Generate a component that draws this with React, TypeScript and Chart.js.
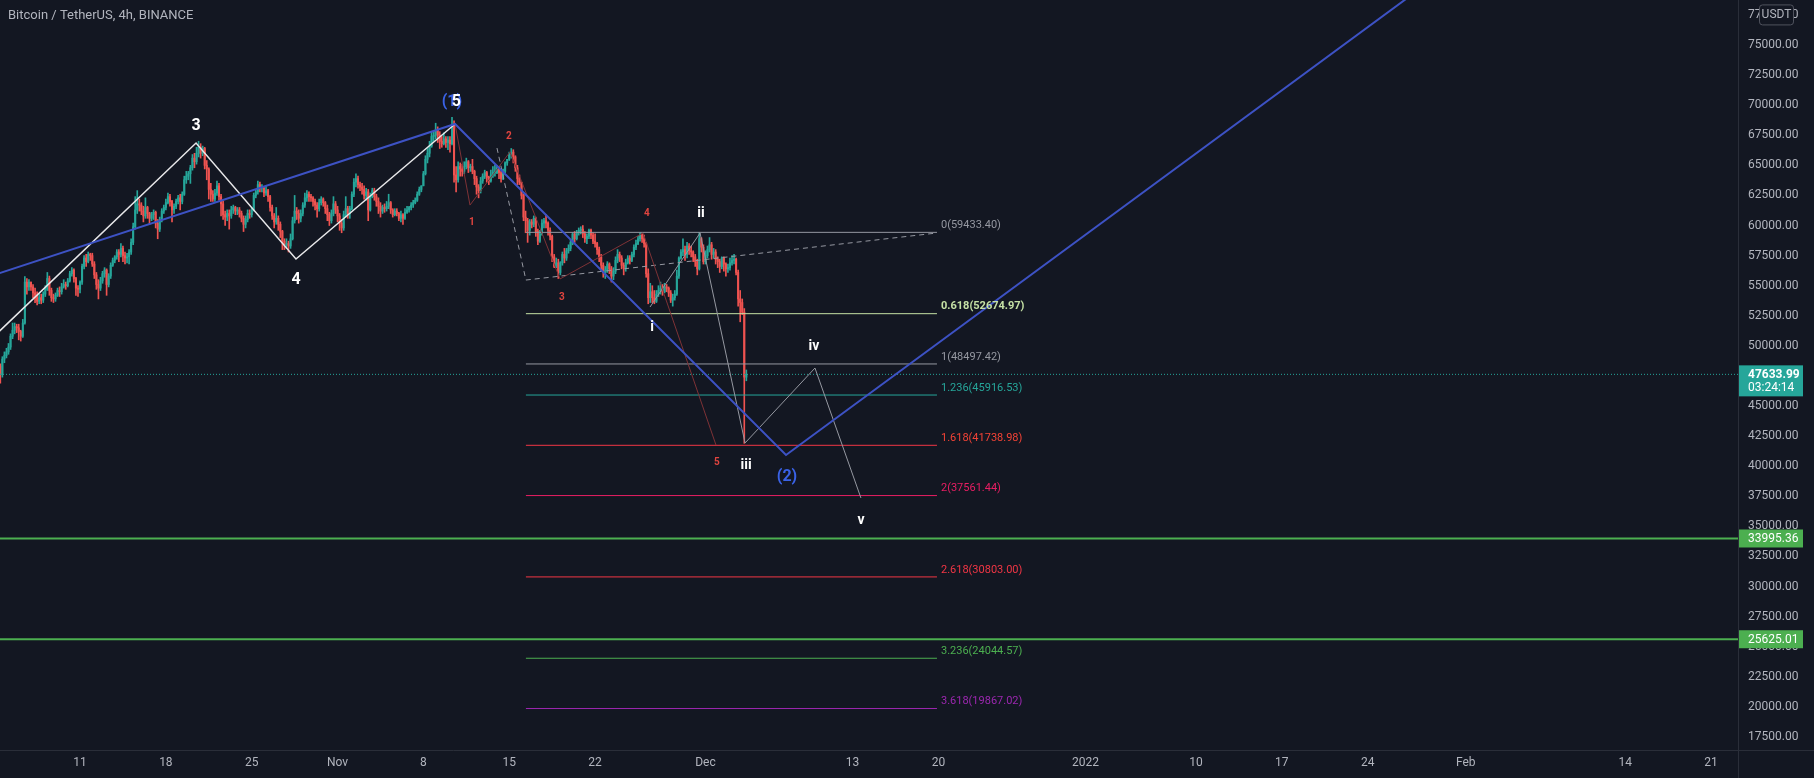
import React, { useEffect, useRef } from 'react';
import { Chart, registerables } from 'chart.js';

Chart.register(...registerables);

// ---------- DATA ----------
// time axis unit: days since 2021-10-01 00:00 (UTC)
const xMinDay = 3.474;
const xMaxDay = 145.2;
const yMinPrice = 16421;
const yMaxPrice = 78739;

// 4h candles, first candle opens 2021-10-04 12:00
const candleStartDay = 3.5;
const firstOpenK = 48.3;
const closesK = [
  47.6, 48.9, 49.2, // Oct 4
  49.5, 49.9, 50.8, 51.3, 51.6, 51.5, // Oct 5
  51.2, 50.8, 51.9, 55.3, 54.9, 55.3, // Oct 6
  54.9, 54.4, 54.2, 53.7, 54.0, 53.8, // Oct 7
  54.3, 54.7, 55.6, 54.6, 54.0, 53.9, // Oct 8
  54.2, 54.6, 54.5, 54.9, 55.1, 55.0, // Oct 9
  55.4, 56.0, 56.3, 55.6, 54.8, 54.7, // Oct 10
  55.3, 56.6, 57.3, 57.0, 57.6, 57.5, // Oct 11
  56.8, 55.9, 55.1, 54.8, 55.4, 56.0, // Oct 12
  56.3, 55.1, 55.8, 56.7, 57.1, 57.4, // Oct 13
  57.8, 57.6, 58.1, 57.5, 57.3, 57.4, // Oct 14
  57.8, 58.6, 59.9, 61.3, 61.8, 61.7, // Oct 15
  61.2, 60.8, 61.5, 61.0, 60.6, 60.9, // Oct 16
  61.1, 60.2, 59.7, 60.5, 61.2, 61.5, // Oct 17
  61.9, 62.4, 62.0, 61.3, 61.6, 62.0, // Oct 18
  62.3, 62.0, 62.6, 63.8, 64.1, 64.3, // Oct 19
  64.8, 65.6, 65.3, 66.0, 66.5, 66.0, // Oct 20
  66.4, 65.0, 64.7, 63.0, 62.6, 62.2, // Oct 21
  62.7, 63.3, 62.4, 61.8, 60.9, 60.7, // Oct 22
  61.0, 60.8, 61.3, 61.5, 61.2, 61.3, // Oct 23
  61.0, 60.6, 60.1, 60.5, 61.0, 60.9, // Oct 24
  61.3, 62.5, 62.8, 63.4, 63.1, 63.1, // Oct 25
  62.7, 62.9, 62.4, 61.5, 60.8, 60.3, // Oct 26
  60.6, 60.1, 59.5, 58.7, 58.4, 58.5, // Oct 27
  58.3, 58.9, 60.4, 61.2, 61.0, 60.6, // Oct 28
  61.0, 61.7, 62.3, 62.6, 62.4, 62.3, // Oct 29
  62.0, 61.7, 61.4, 61.9, 62.2, 61.9, // Oct 30
  61.4, 60.9, 60.4, 61.0, 61.8, 61.3, // Oct 31
  60.8, 60.2, 59.8, 60.9, 61.4, 61.0, // Nov 1
  61.4, 62.6, 63.6, 63.9, 63.4, 63.2, // Nov 2
  63.0, 62.5, 62.8, 61.3, 62.4, 62.9, // Nov 3
  62.4, 62.0, 61.6, 61.2, 61.5, 61.4, // Nov 4
  61.6, 61.9, 61.3, 60.9, 61.2, 61.0, // Nov 5
  60.6, 60.9, 60.6, 61.1, 61.3, 61.5, // Nov 6
  61.7, 61.9, 62.1, 62.6, 63.0, 63.3, // Nov 7
  64.3, 65.5, 66.0, 66.6, 67.4, 67.5, // Nov 8
  67.9, 67.5, 67.0, 66.8, 67.2, 66.9, // Nov 9
  67.1, 66.8, 68.3, 64.2, 63.8, 64.9, // Nov 10
  64.7, 64.5, 64.9, 65.3, 64.8, 64.9, // Nov 11
  64.5, 63.9, 63.2, 62.9, 63.7, 64.1, // Nov 12
  64.4, 64.0, 63.7, 64.2, 64.4, 64.4, // Nov 13
  64.8, 64.4, 63.9, 64.5, 65.2, 65.5, // Nov 14
  65.9, 66.1, 65.7, 64.8, 63.9, 63.6, // Nov 15
  62.5, 60.7, 60.4, 59.6, 60.3, 60.1, // Nov 16
  60.6, 59.5, 58.7, 59.3, 60.2, 60.4, // Nov 17
  60.2, 59.6, 59.1, 57.4, 56.6, 56.9, // Nov 18
  56.1, 56.9, 57.6, 57.3, 57.9, 58.1, // Nov 19
  58.6, 59.3, 58.9, 59.4, 59.6, 59.7, // Nov 20
  59.3, 58.9, 59.1, 59.6, 59.2, 58.7, // Nov 21
  58.5, 58.0, 57.4, 56.7, 56.1, 56.3, // Nov 22
  56.8, 56.4, 55.8, 56.2, 57.1, 57.6, // Nov 23
  57.3, 56.7, 56.5, 56.9, 57.3, 57.1, // Nov 24
  57.6, 58.2, 58.5, 58.9, 59.2, 58.9, // Nov 25
  58.5, 56.0, 54.0, 54.5, 54.0, 53.7, // Nov 26
  54.3, 54.6, 54.8, 54.5, 54.9, 54.8, // Nov 27
  54.4, 53.8, 54.0, 54.3, 55.8, 57.3, // Nov 28
  57.8, 58.0, 57.6, 58.3, 57.9, 57.8, // Nov 29
  57.4, 57.0, 56.4, 58.9, 58.2, 57.0, // Nov 30
  57.5, 58.0, 58.4, 57.6, 57.8, 57.2, // Dec 1
  57.0, 56.6, 57.3, 56.8, 56.4, 56.5, // Dec 2
  56.9, 57.1, 57.2, 56.1, 53.9, 53.6, // Dec 3
  52.8, 47.4, 47.63399, // Dec 4
];
const highsK = [
  48.5, 49.1, 49.5,
  49.8, 50.2, 51.0, 51.9, 51.9, 51.8,
  51.8, 51.3, 52.2, 55.75, 55.6, 55.5,
  55.3, 55.1, 54.8, 54.5, 54.3, 54.3,
  54.5, 55.0, 56.1, 55.8, 54.8, 54.3,
  54.4, 54.8, 54.9, 55.2, 55.5, 55.3,
  55.6, 56.2, 56.5, 56.4, 55.7, 55.0,
  55.4, 56.8, 57.5, 57.6, 57.8, 57.7,
  57.7, 57.0, 56.1, 55.5, 55.7, 56.2,
  56.5, 56.4, 56.0, 56.9, 57.3, 57.5,
  58.0, 58.0, 58.5, 58.3, 57.8, 57.7,
  58.0, 58.9, 60.2, 62.4, 62.9, 62.2,
  61.9, 61.6, 62.3, 61.6, 61.1, 61.1,
  61.3, 61.2, 60.5, 60.7, 61.4, 61.7,
  62.2, 62.7, 62.6, 62.1, 61.8, 62.2,
  62.5, 62.6, 62.8, 64.1, 64.5, 64.5,
  65.0, 65.9, 66.0, 66.5, 67.0, 66.8,
  66.6, 66.5, 65.4, 64.8, 63.5, 62.9,
  63.0, 63.7, 63.5, 62.6, 62.0, 61.2,
  61.3, 61.3, 61.6, 61.7, 61.6, 61.5,
  61.5, 61.2, 60.8, 60.8, 61.3, 61.3,
  61.5, 62.7, 63.0, 63.7, 63.6, 63.4,
  63.2, 63.3, 63.0, 62.5, 61.7, 61.0,
  61.5, 60.8, 60.3, 59.6, 58.9, 58.9,
  58.7, 59.3, 60.7, 62.5, 61.5, 61.3,
  61.3, 61.9, 62.7, 62.9, 62.8, 62.6,
  62.4, 62.2, 61.9, 62.2, 62.4, 62.3,
  62.0, 61.7, 61.1, 61.3, 62.4, 62.0,
  61.6, 61.0, 60.5, 61.2, 62.4, 61.6,
  61.6, 62.8, 63.9, 64.3, 64.1, 63.6,
  63.5, 63.3, 63.1, 63.0, 62.7, 63.1,
  63.1, 62.6, 62.3, 61.9, 61.7, 61.8,
  62.0, 62.6, 62.0, 61.4, 61.4, 61.4,
  61.1, 61.2, 61.0, 61.4, 61.6, 61.6,
  61.9, 62.1, 62.3, 62.8, 63.2, 63.3,
  64.5, 65.8, 66.4, 67.0, 67.8, 67.8,
  68.5, 68.2, 67.8, 67.4, 67.7, 67.4,
  67.4, 67.4, 69.0, 68.7, 64.9, 65.3,
  65.2, 65.1, 65.3, 65.6, 65.4, 65.1,
  65.5, 64.6, 64.1, 63.4, 64.0, 64.3,
  64.6, 64.5, 64.1, 64.6, 64.9, 65.0,
  65.0, 64.9, 64.5, 64.7, 65.3, 65.5,
  66.1, 66.4, 66.3, 65.8, 65.0, 64.2,
  63.6, 62.6, 61.2, 60.6, 60.5, 60.5,
  60.8, 60.7, 59.7, 59.6, 60.5, 60.6,
  60.9, 60.3, 59.8, 59.2, 57.6, 57.3,
  57.2, 57.0, 57.8, 58.1, 58.1, 58.4,
  58.8, 59.4, 59.5, 59.6, 59.8, 59.9,
  60.0, 59.5, 59.3, 59.7, 59.7, 59.4,
  59.3, 58.6, 58.2, 57.6, 56.9, 56.6,
  57.0, 56.9, 56.6, 56.5, 57.4, 58.0,
  57.8, 57.5, 56.9, 57.2, 57.5, 57.5,
  57.8, 58.4, 58.8, 59.1, 59.4, 59.3,
  59.2, 58.6, 56.4, 55.2, 55.0, 54.6,
  54.6, 55.0, 55.3, 55.1, 55.2, 55.1,
  54.9, 54.6, 54.3, 54.6, 56.3, 57.4,
  58.0, 58.9, 58.3, 58.6, 58.5, 58.3,
  57.9, 57.6, 57.2, 59.4334, 59.0, 58.4,
  57.9, 58.3, 59.0, 58.6, 58.1, 58.0,
  57.4, 57.2, 57.4, 57.4, 56.9, 56.8,
  57.3, 57.5, 57.6, 57.3, 56.3, 54.6,
  53.9, 53.1, 48.0,
];
const lowsK = [
  46.9, 47.4, 48.6,
  49.0, 49.3, 49.7, 50.6, 51.0, 51.1,
  50.5, 50.4, 50.7, 51.8, 54.3, 54.6,
  54.6, 54.0, 53.6, 53.4, 53.5, 53.5,
  53.6, 54.1, 54.6, 54.2, 53.7, 53.6,
  53.7, 54.1, 54.1, 54.3, 54.8, 54.7,
  54.9, 55.3, 55.8, 55.3, 54.2, 54.1,
  54.4, 55.1, 56.4, 56.6, 56.9, 57.1,
  56.6, 55.6, 54.7, 53.9, 54.6, 55.2,
  55.7, 54.2, 54.9, 55.6, 56.6, 56.9,
  57.2, 57.0, 57.4, 57.0, 56.8, 56.9,
  56.8, 57.6, 58.4, 59.7, 61.0, 61.2,
  60.9, 60.3, 60.6, 60.6, 60.1, 60.4,
  60.5, 59.8, 58.9, 59.5, 60.3, 61.0,
  61.3, 61.8, 61.6, 60.3, 61.0, 61.4,
  61.8, 61.3, 61.8, 62.5, 63.5, 63.8,
  63.5, 64.6, 64.8, 65.1, 65.7, 65.6,
  65.8, 64.7, 63.8, 62.2, 62.0, 62.0,
  62.0, 62.5, 62.1, 60.8, 60.5, 60.0,
  60.4, 59.7, 60.6, 61.0, 60.9, 60.9,
  60.7, 60.3, 59.5, 59.8, 60.3, 60.6,
  60.7, 61.2, 62.3, 62.6, 62.8, 62.8,
  62.4, 62.5, 62.0, 61.2, 60.5, 59.8,
  60.1, 59.6, 59.0, 58.0, 58.0, 58.1,
  57.8, 58.1, 58.8, 60.2, 60.5, 60.2,
  60.3, 60.8, 61.5, 62.0, 62.0, 62.0,
  61.6, 61.3, 60.7, 61.2, 61.7, 61.6,
  61.0, 60.4, 60.0, 60.2, 60.8, 61.0,
  60.3, 59.6, 59.4, 59.6, 60.7, 60.6,
  60.6, 61.3, 62.4, 63.2, 63.1, 62.9,
  62.6, 62.2, 62.1, 60.4, 61.2, 62.3,
  62.1, 61.6, 61.0, 60.7, 61.0, 61.1,
  61.2, 61.4, 61.0, 60.7, 60.8, 60.8,
  60.4, 60.3, 60.1, 60.5, 61.0, 61.1,
  61.3, 61.5, 61.8, 62.0, 62.5, 62.8,
  63.3, 64.2, 65.2, 65.7, 66.5, 67.0,
  67.2, 66.9, 66.4, 66.5, 66.7, 66.5,
  66.3, 66.1, 66.7, 63.6, 62.8, 63.6,
  64.1, 64.1, 64.3, 64.7, 64.4, 64.5,
  64.3, 63.4, 62.6, 62.3, 62.7, 63.5,
  63.9, 63.6, 63.4, 63.6, 64.0, 64.1,
  64.3, 63.9, 63.6, 63.8, 64.4, 65.0,
  65.4, 65.6, 65.2, 64.5, 63.4, 63.4,
  62.2, 60.4, 59.4, 58.6, 59.2, 59.8,
  59.9, 59.1, 58.4, 58.6, 59.2, 59.8,
  59.8, 59.2, 58.8, 57.0, 56.5, 56.5,
  55.6, 55.9, 56.7, 56.9, 57.1, 57.7,
  57.9, 58.4, 58.6, 58.8, 59.2, 59.3,
  59.0, 58.6, 58.5, 58.9, 58.9, 58.5,
  58.2, 57.6, 57.0, 56.2, 55.7, 55.6,
  56.1, 56.0, 55.3, 55.5, 56.0, 56.9,
  57.0, 56.4, 55.9, 56.2, 56.8, 56.8,
  57.0, 57.4, 58.0, 58.4, 58.7, 58.6,
  58.2, 55.7, 53.5, 53.6, 53.6, 53.5,
  53.6, 54.1, 54.3, 54.2, 54.4, 54.5,
  54.1, 53.6, 53.3, 53.8, 54.2, 55.6,
  57.2, 57.5, 57.1, 57.3, 57.6, 57.4,
  57.0, 56.6, 55.9, 56.3, 57.8, 56.8,
  56.8, 57.3, 57.8, 57.2, 57.3, 56.8,
  56.5, 56.1, 56.4, 56.2, 55.8, 56.1,
  56.3, 56.7, 56.8, 55.9, 53.3, 52.0,
  52.6, 41.9, 47.1,
];

// axis ticks
const xTickDays = [10, 17, 24, 31, 38, 45, 52, 61, 73, 80, 92, 101, 108, 115, 123, 136, 143];
const xTickLabels = ['11', '18', '25', 'Nov', '8', '15', '22', 'Dec', '13', '20', '2022', '10', '17', '24', 'Feb', '14', '21'];
const yTickValues = [17500, 20000, 22500, 25000, 27500, 30000, 32500, 35000, 37500, 40000, 42500, 45000,
  47500, 50000, 52500, 55000, 57500, 60000, 62500, 65000, 67500, 70000, 72500, 75000, 77500];

// fibonacci extension levels
const fibRatios = ['0', '0.618', '1', '1.236', '1.618', '2', '2.618', '3.236', '3.618'];
const fibPrices = [59433.40, 52674.97, 48497.42, 45916.53, 41738.98, 37561.44, 30803.00, 24044.57, 19867.02];
const fibStartDay = 46.36;
const fibEndDay = 79.88;
const fibDashDays = [44.0, 46.36, 79.88];
const fibDashPrices = [66440, 55470, 59380];

// wave lines
const whiteWaveDays = [3.3, 19.46, 27.61, 40.58];
const whiteWavePrices = [51100, 66860, 57220, 68440];
const blueWaveDays = [3.3, 40.58, 67.57, 119.7];
const blueWavePrices = [56000, 68440, 40930, 80000];
const redWaveDays = [40.58, 41.80, 45.06, 49.14, 55.91, 61.86];
const redWavePrices = [68440, 61700, 66110, 55560, 59380, 41760];
const greyWaveDays = [56.48, 60.56, 64.23, 69.93, 73.68];
const greyWavePrices = [53230, 59380, 41930, 48160, 37360];

// wave labels
const majorLabels = ['3', '4'];
const majorLabelDays = [19.46, 27.61];
const majorLabelPrices = [68270, 55470];
const blueLabels = ['(1)', '(2)'];
const blueLabelDays = [40.33, 67.65];
const blueLabelPrices = [70260, 39100];
const peakLabel = '5';
const peakLabelDay = 40.68;
const peakLabelPrice = 70260;
const minorLabels = ['i', 'ii', 'iii', 'iv', 'v'];
const minorLabelDays = [56.64, 60.64, 64.31, 69.85, 73.68];
const minorLabelPrices = [51490, 60960, 40020, 49910, 35530];
const subLabels = ['1', '2', '3', '4', '5'];
const subLabelDays = [41.96, 44.98, 49.3, 56.23, 61.94];
const subLabelPrices = [60290, 67360, 54060, 60960, 40270];

// horizontal levels / price markers
const supportLevels = [33995.36, 25625.01];
const lastPrice = 47633.99;
const countdown = '03:24:14';
const titleText = 'Bitcoin / TetherUS, 4h, BINANCE';

// ---------- STYLE ----------
const BG = '#131722';
const TEXT = '#b2b5be';
const UP = '#26a69a';
const DOWN = '#ef5350';
const AXIS_LINE = '#2a2e39';
const FONT = 'Roboto, "Liberation Sans", sans-serif';
const fibLineColors = ['#9598a1', '#c5e1a5', '#9598a1', '#26a69a', '#f23645', '#e91e63', '#f23645', '#4caf50', '#9c27b0'];
const fibTextColors = ['#9598a1', '#c5e1a5', '#9598a1', '#26a69a', '#f44336', '#e91e63', '#f23645', '#4caf50', '#9c27b0'];

export default function App() {
  const ref = useRef<HTMLCanvasElement>(null);

  useEffect(() => {
    document.body.style.margin = '0';
    document.body.style.background = BG;
    const canvas = ref.current;
    if (!canvas) return;

    const closes = closesK.map((v) => v * 1000);
    const highs = highsK.map((v) => v * 1000);
    const lows = lowsK.map((v) => v * 1000);
    const opens = closes.map((c, i) => (i === 0 ? firstOpenK * 1000 : closes[i - 1]));
    const xs = closes.map((_, i) => candleStartDay + i / 6);
    const candleColors = closes.map((c, i) => (c >= opens[i] ? UP : DOWN));

    const pts = (days: number[], prices: number[]) => days.map((d, i) => ({ x: d, y: prices[i] }));
    const lineDs = (data: any[], color: string, width: number, extra: any = {}) => ({
      type: 'line',
      data,
      borderColor: color,
      borderWidth: width,
      pointRadius: 0,
      fill: false,
      tension: 0,
      order: 1,
      ...extra,
    });

    const datasets: any[] = [];
    fibPrices.forEach((p, i) => {
      datasets.push(lineDs([{ x: fibStartDay, y: p }, { x: fibEndDay, y: p }], fibLineColors[i], 1, { order: 5 }));
    });
    datasets.push(lineDs(pts(fibDashDays, fibDashPrices), '#9598a1', 1, { borderDash: [5, 4], order: 5 }));
    supportLevels.forEach((p) => {
      datasets.push(lineDs([{ x: xMinDay, y: p }, { x: xMaxDay, y: p }], '#4caf50', 2, { order: 5 }));
    });
    datasets.push(lineDs([{ x: xMinDay, y: lastPrice }, { x: xMaxDay, y: lastPrice }], UP, 1, { borderDash: [1, 2], order: 6 }));
    datasets.push(lineDs(pts(redWaveDays, redWavePrices), '#7e3236', 1, { order: 2 }));
    datasets.push(lineDs(pts(greyWaveDays, greyWavePrices), '#9598a1', 1, { order: 2 }));
    datasets.push(lineDs(pts(whiteWaveDays, whiteWavePrices), '#e8e8ea', 1.5, { order: 1 }));
    datasets.push(lineDs(pts(blueWaveDays, blueWavePrices), '#3d52c4', 2, { order: 0 }));
    datasets.push({
      type: 'bar',
      data: xs.map((x, i) => ({ x, y: [lows[i], highs[i]] })),
      backgroundColor: candleColors,
      borderWidth: 0,
      barThickness: 1,
      grouped: false,
      order: 20,
    });
    datasets.push({
      type: 'bar',
      data: xs.map((x, i) => ({ x, y: [opens[i], closes[i]] })),
      backgroundColor: candleColors,
      borderWidth: 0,
      barThickness: 1.4,
      minBarLength: 1,
      grouped: false,
      order: 19,
    });

    const overlay = {
      id: 'overlay',
      beforeDraw(chart: any) {
        const { ctx, width, height } = chart;
        ctx.save();
        ctx.fillStyle = BG;
        ctx.fillRect(0, 0, width, height);
        ctx.restore();
      },
      afterDatasetsDraw(chart: any) {
        const { ctx } = chart;
        const xs = chart.scales.x;
        const ys = chart.scales.y;
        ctx.save();
        ctx.textAlign = 'left';
        ctx.textBaseline = 'middle';
        fibRatios.forEach((r, i) => {
          const px = xs.getPixelForValue(fibEndDay) + 4;
          const py = ys.getPixelForValue(fibPrices[i]) - 7;
          ctx.font = (i === 1 ? 'bold ' : '') + '11px ' + FONT;
          ctx.fillStyle = fibTextColors[i];
          ctx.fillText(r + '(' + fibPrices[i].toFixed(2) + ')', px, py);
        });
        ctx.textAlign = 'center';
        const draw = (labels: string[], days: number[], prices: number[], font: string, color: string) => {
          ctx.font = font;
          ctx.fillStyle = color;
          labels.forEach((t, i) => {
            ctx.fillText(t, xs.getPixelForValue(days[i]), ys.getPixelForValue(prices[i]));
          });
        };
        draw(subLabels, subLabelDays, subLabelPrices, 'bold 10px ' + FONT, '#e0443f');
        draw(blueLabels, blueLabelDays, blueLabelPrices, 'bold 16px ' + FONT, '#3a62e6');
        draw(majorLabels, majorLabelDays, majorLabelPrices, 'bold 16px ' + FONT, '#ffffff');
        draw([peakLabel], [peakLabelDay], [peakLabelPrice], 'bold 16px ' + FONT, '#ffffff');
        draw(minorLabels, minorLabelDays, minorLabelPrices, 'bold 14px ' + FONT, '#ffffff');
        ctx.restore();
      },
      afterDraw(chart: any) {
        const { ctx, chartArea, width, height } = chart;
        const ys = chart.scales.y;
        ctx.save();
        ctx.strokeStyle = AXIS_LINE;
        ctx.lineWidth = 1;
        ctx.beginPath();
        ctx.moveTo(chartArea.right + 0.5, 0);
        ctx.lineTo(chartArea.right + 0.5, height);
        ctx.moveTo(0, chartArea.bottom + 0.5);
        ctx.lineTo(width, chartArea.bottom + 0.5);
        ctx.stroke();

        const bx = chartArea.right + 1;
        const bw = 64;
        ctx.font = '12px ' + FONT;
        ctx.textAlign = 'left';
        ctx.textBaseline = 'middle';
        supportLevels.forEach((p) => {
          const py = ys.getPixelForValue(p);
          ctx.fillStyle = '#4caf50';
          ctx.fillRect(bx, py - 9, bw, 18);
          ctx.fillStyle = '#ffffff';
          ctx.fillText(p.toFixed(2), bx + 9, py + 0.5);
        });
        const ly = ys.getPixelForValue(lastPrice);
        ctx.fillStyle = UP;
        ctx.fillRect(bx, ly - 9, bw, 31);
        ctx.fillStyle = '#ffffff';
        ctx.font = 'bold 12px ' + FONT;
        ctx.fillText(lastPrice.toFixed(2), bx + 9, ly + 0.5);
        ctx.font = '12px ' + FONT;
        ctx.fillText(countdown, bx + 9, ly + 14);
        const uy = ys.getPixelForValue(77500);
        ctx.fillStyle = BG;
        ctx.strokeStyle = '#50535e';
        ctx.beginPath();
        const rx = 1759.5, rw = 34, rh = 20, ry = uy - 10;
        ctx.roundRect(rx, ry, rw, rh, 3);
        ctx.fill();
        ctx.stroke();
        ctx.fillStyle = TEXT;
        ctx.textAlign = 'center';
        ctx.fillText('USDT', rx + rw / 2, uy + 0.5);
        ctx.textAlign = 'left';
        ctx.font = '13px ' + FONT;
        ctx.fillStyle = TEXT;
        ctx.fillText(titleText, 8, 16);
        ctx.restore();
      },
    };

    const chart = new Chart(canvas, {
      type: 'bar',
      data: { datasets },
      options: {
        responsive: false,
        maintainAspectRatio: false,
        devicePixelRatio: 1,
        animation: false,
        events: [],
        layout: { padding: 0 },
        plugins: { legend: { display: false }, tooltip: { enabled: false }, title: { display: false } },
        scales: {
          x: {
            type: 'linear',
            min: xMinDay,
            max: xMaxDay,
            offset: false,
            grid: { display: false, offset: false, drawTicks: false, tickLength: 0 },
            border: { display: false },
            afterBuildTicks: (s: any) => {
              s.ticks = xTickDays.map((v) => ({ value: v }));
            },
            afterFit: (s: any) => {
              s.height = 28;
              s.paddingLeft = 0;
              s.paddingRight = 0;
            },
            ticks: {
              autoSkip: false,
              maxRotation: 0,
              minRotation: 0,
              padding: 6,
              color: TEXT,
              font: { size: 12, family: FONT },
              callback: (v: any) => {
                const idx = xTickDays.indexOf(Number(v));
                return idx >= 0 ? xTickLabels[idx] : '';
              },
            },
          },
          y: {
            type: 'linear',
            position: 'right',
            min: yMinPrice,
            max: yMaxPrice,
            grid: { display: false, drawTicks: false, tickLength: 0 },
            border: { display: false },
            afterBuildTicks: (s: any) => {
              s.ticks = yTickValues.map((v) => ({ value: v }));
            },
            afterFit: (s: any) => {
              s.width = 76;
              s.paddingTop = 0;
              s.paddingBottom = 0;
            },
            ticks: {
              padding: 10,
              color: TEXT,
              font: { size: 12, family: FONT },
              callback: (v: any) => Number(v).toFixed(2),
            },
          },
        },
      },
      plugins: [overlay],
    } as any);

    return () => chart.destroy();
  }, []);

  return (
    <div style={{ width: 1814, height: 778, background: BG }}>
      <canvas ref={ref} width={1814} height={778} style={{ display: 'block', width: 1814, height: 778 }} />
    </div>
  );
}
